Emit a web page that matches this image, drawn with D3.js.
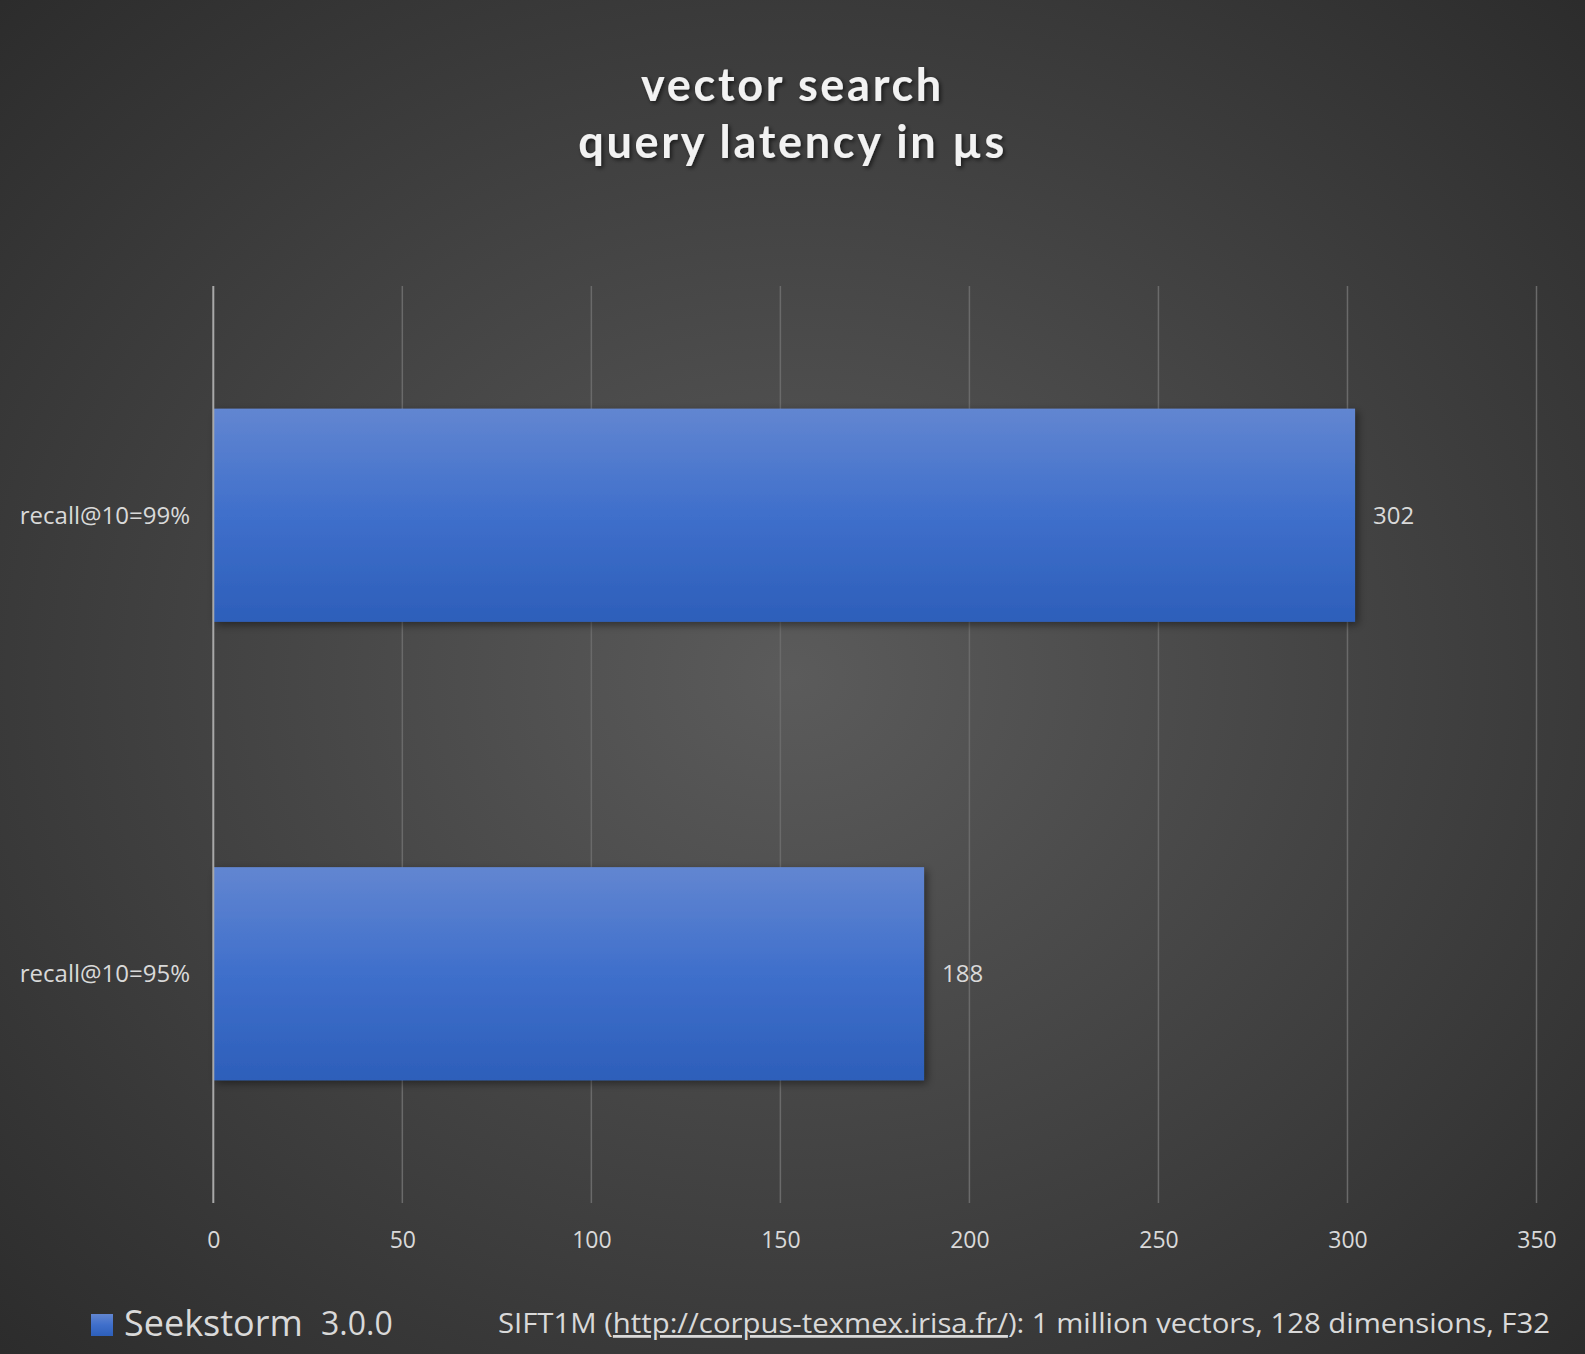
<!DOCTYPE html>
<html><head><meta charset="utf-8">
<script src="https://cdn.jsdelivr.net/npm/d3@7"></script>
<style>html,body{margin:0;padding:0;background:#333;}svg{display:block;}</style>
</head><body>
<script>
const categories = ["recall@10=99%", "recall@10=95%"];
const values = [302, 188];
const tickValues = [0, 50, 100, 150, 200, 250, 300, 350];
const titleLines = ["vector search", "query latency in µs"];
const seriesName = "Seekstorm";
const seriesVersion = "3.0.0";
const notePrefix = "SIFT1M (";
const noteLink = "http://corpus-texmex.irisa.fr/";
const noteSuffix = "): 1 million vectors, 128 dimensions, F32";

const W = 1585, H = 1354;
const svg = d3.select("body").append("svg").attr("width", W).attr("height", H);
const defs = svg.append("defs");
const bg = defs.append("radialGradient").attr("id","bg").attr("cx","50%").attr("cy","50%").attr("r","72%");
bg.append("stop").attr("offset","0%").attr("stop-color","#5b5b5b");
bg.append("stop").attr("offset","100%").attr("stop-color","#2b2b2b");
const barGrad = defs.append("linearGradient").attr("id","bar").attr("x1",0).attr("y1",0).attr("x2",0).attr("y2",1);
barGrad.append("stop").attr("offset","0%").attr("stop-color","#6286d1");
barGrad.append("stop").attr("offset","50%").attr("stop-color","#3f6fcb");
barGrad.append("stop").attr("offset","100%").attr("stop-color","#2d5fba");
const sh = defs.append("filter").attr("id","sh").attr("x","-10%").attr("y","-10%").attr("width","130%").attr("height","130%");
sh.append("feDropShadow").attr("dx",3).attr("dy",3).attr("stdDeviation",4).attr("flood-color","#000").attr("flood-opacity",0.45);
const tsh = defs.append("filter").attr("id","tsh");
tsh.append("feDropShadow").attr("dx",2).attr("dy",2).attr("stdDeviation",2).attr("flood-color","#000").attr("flood-opacity",0.6);

svg.append("rect").attr("width",W).attr("height",H).attr("fill","url(#bg)");

const pLeft = 213.3, pRight = 1536.5, pTop = 286, pBottom = 1203;
const x = d3.scaleLinear().domain([0,350]).range([pLeft,pRight]);
const y = d3.scaleBand().domain(categories).range([pTop,pBottom]).paddingInner(0.535).paddingOuter(0.2675);

// grid
svg.append("g").selectAll("line").data(tickValues.slice(1)).join("line")
  .attr("x1",d=>x(d)).attr("x2",d=>x(d)).attr("y1",pTop).attr("y2",pBottom)
  .attr("stroke","#6a6a6a").attr("stroke-width",1.5);

// bars
svg.append("g").selectAll("rect").data(values).join("rect")
  .attr("x",x(0)).attr("y",(d,i)=>y(categories[i]))
  .attr("width",d=>x(d)-x(0)).attr("height",y.bandwidth())
  .attr("fill","url(#bar)").attr("filter","url(#sh)");

// zero axis
svg.append("line").attr("x1",x(0)).attr("x2",x(0)).attr("y1",pTop).attr("y2",pBottom)
  .attr("stroke","#a8a8a8").attr("stroke-width",2);

const font = "'Open Sans', Lato, sans-serif";
// x axis labels
const xAxis = d3.axisBottom(x).tickValues(tickValues).tickSize(0).tickPadding(0);
const gx = svg.append("g").attr("transform",`translate(0,${pBottom})`).call(xAxis);
gx.select(".domain").remove();
gx.selectAll("text").attr("dy",null).attr("y",45).attr("fill","#d9d9d9")
  .style("font-family",font).style("font-size","23px");

// category labels
const yAxis = d3.axisLeft(y).tickSize(0).tickPadding(0);
const gy = svg.append("g").attr("transform",`translate(190,0)`).call(yAxis);
gy.select(".domain").remove();
gy.selectAll("text").attr("fill","#d9d9d9").attr("dy","0.35em")
  .style("font-family",font).style("font-size","24px");

// value labels
svg.append("g").selectAll("text").data(values).join("text")
  .attr("x",d=>x(d)+18).attr("y",(d,i)=>y(categories[i])+y.bandwidth()/2).attr("dy","0.35em")
  .attr("fill","#d9d9d9").style("font-family",font).style("font-size","24px").text(d=>d);

// title
svg.append("g").selectAll("text").data(titleLines).join("text")
  .attr("x",W/2).attr("y",(d,i)=>101+i*57).attr("text-anchor","middle")
  .attr("fill","#f2f2f2").attr("filter","url(#tsh)")
  .style("font-family","Lato, 'Open Sans', sans-serif").style("font-weight","bold")
  .style("font-size","45px").style("letter-spacing","2.7px").text(d=>d);

// legend
svg.append("rect").attr("x",91).attr("y",1314).attr("width",22).attr("height",22).attr("fill","url(#bar)");
svg.append("text").attr("x",124).attr("y",1336).attr("fill","#d9d9d9")
  .style("font-family",font).style("font-size","36px").text(seriesName);
svg.append("text").attr("x",321).attr("y",1335).attr("fill","#d9d9d9")
  .style("font-family",font).style("font-size","32px").text(seriesVersion);

const note = svg.append("text").attr("x",498).attr("y",1333).attr("fill","#d9d9d9")
  .style("font-family",font).style("font-size","28px")
  .attr("textLength",1052).attr("lengthAdjust","spacingAndGlyphs");
note.append("tspan").text(notePrefix);
note.append("tspan").style("text-decoration","underline").text(noteLink);
note.append("tspan").text(noteSuffix);
</script>
</body></html>
